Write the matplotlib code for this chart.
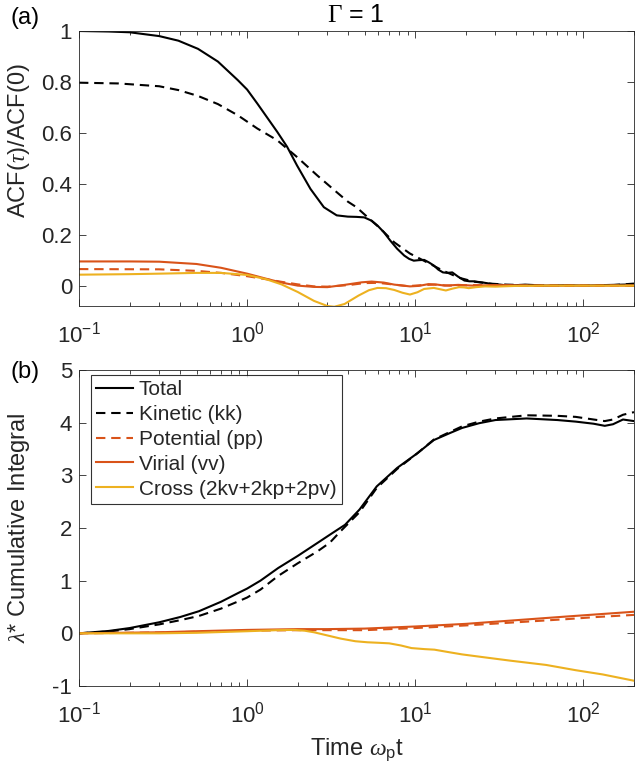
import numpy as np
import matplotlib
matplotlib.use("Agg")
import matplotlib.pyplot as plt
from matplotlib.ticker import LogLocator, NullFormatter

plt.rcParams['font.family'] = ['Liberation Sans', 'DejaVu Sans']
plt.rcParams['mathtext.fontset'] = 'custom'
plt.rcParams['mathtext.rm'] = 'Liberation Sans'
plt.rcParams['mathtext.it'] = 'Liberation Serif:italic'
plt.rcParams['mathtext.sf'] = 'Liberation Serif'
plt.rcParams['axes.unicode_minus'] = False

# colours (MATLAB defaults)
BLACK = 'black'
ORANGE = '#D95319'
YELLOW = '#EDB120'
TXT = '#262626'

# ---- panel (a): normalised ACFs ----
t_tot_a = [0.1, 0.15, 0.2, 0.3, 0.39, 0.51, 0.67, 0.88, 1.0, 1.15, 1.51, 1.73, 1.98, 2.38,
           2.86, 3.41, 3.97, 4.47, 4.97, 5.5, 5.96, 6.5, 7.1, 7.8, 8.6, 9.2, 9.8, 10.5, 11.3,
           12.0, 12.9, 13.7, 14.6, 15.5, 16.6, 18.0, 19.6, 21, 22.2, 24, 25.4, 28.9, 32, 36,
           45, 60, 80, 100, 150, 200]
acf_tot = [1.0, 0.998, 0.995, 0.98, 0.962, 0.93, 0.88, 0.807, 0.77, 0.715, 0.604, 0.545,
           0.472, 0.38, 0.308, 0.276, 0.271, 0.27, 0.268, 0.255, 0.236, 0.21, 0.177, 0.145,
           0.118, 0.105, 0.098, 0.1, 0.101, 0.092, 0.079, 0.063, 0.052, 0.05, 0.052, 0.035,
           0.02, 0.017, 0.017, 0.014, 0.012, 0.006, 0.004, 0.0, 0.004, 0.0, 0.002, 0.0,
           0.003, 0.005]

t_kin_a = [0.1, 0.172, 0.3, 0.39, 0.51, 0.67, 0.88, 1.15, 1.51, 1.98, 2.61, 3.41, 3.97,
           4.47, 5.2, 6.2, 7.5, 9.3, 11.7, 14.6, 18.2, 22.2, 27.7, 35, 50, 70, 100, 150, 200]
acf_kin = [0.797, 0.794, 0.783, 0.768, 0.745, 0.713, 0.669, 0.617, 0.571, 0.505, 0.433,
           0.367, 0.33, 0.308, 0.269, 0.224, 0.17, 0.126, 0.092, 0.059, 0.031, 0.016, 0.008,
           0.004, 0.001, 0.0, 0.0, 0.002, 0.008]

t_vir_a = [0.1, 0.2, 0.3, 0.5, 0.7, 1.0, 1.3, 1.6, 2.0, 2.5, 3.0, 3.8, 4.8, 5.5, 6.5, 7.5,
           9.3, 10.5, 12, 13.5, 15, 18, 22, 30, 50, 100, 200]
acf_vir = [0.095, 0.095, 0.094, 0.085, 0.07, 0.047, 0.027, 0.012, 0.0, -0.005, -0.006, 0.003,
           0.013, 0.016, 0.012, 0.004, -0.003, -0.001, 0.006, 0.004, 0.0, 0.003, 0.0, 0.002,
           0.0, 0.0, 0.0]

t_pot_a = [0.1, 0.3, 0.5, 0.7, 1.0, 1.3, 1.6, 2.0, 2.5, 3.0, 4, 5, 6, 7.5, 9, 11, 13, 16,
           22, 40, 200]
acf_pot = [0.065, 0.064, 0.058, 0.05, 0.037, 0.025, 0.015, 0.005, -0.003, -0.004, 0.002, 0.01,
           0.011, 0.004, -0.002, 0.002, 0.004, 0.0, 0.002, 0.0, 0.0]

t_crs_a = [0.1, 0.2, 0.3, 0.5, 0.7, 1.0, 1.3, 1.6, 2.0, 2.5, 3.0, 3.3, 3.8, 4.6, 5.3, 5.96,
           6.7, 7.5, 8.4, 9.3, 10.3, 11.3, 12.9, 14.0, 15.2, 16.6, 18.2, 19.5, 20.8, 23, 26,
           30, 40, 60, 100, 200]
acf_crs = [0.043, 0.045, 0.047, 0.05, 0.05, 0.042, 0.025, 0.005, -0.025, -0.06, -0.08,
           -0.083, -0.072, -0.039, -0.018, -0.009, -0.01, -0.017, -0.028, -0.035, -0.026,
           -0.013, -0.009, -0.014, -0.019, -0.012, -0.006, -0.007, -0.01, -0.006, -0.003,
           -0.004, -0.001, 0.0, 0.0, 0.0]

# ---- panel (b): cumulative integrals ----
t_tot_b = [0.1, 0.15, 0.2, 0.3, 0.4, 0.517, 0.7, 0.89, 1.0, 1.2, 1.53, 2.0, 2.63, 3.2, 3.82,
           4.66, 5.9, 7.8, 10.3, 12.9, 16, 19, 24, 30, 46, 70, 90, 115, 134, 150, 172, 200]
int_tot = [0.0, 0.045, 0.1, 0.21, 0.31, 0.42, 0.6, 0.77, 0.85, 1.0, 1.24, 1.47, 1.72, 1.9,
           2.06, 2.35, 2.79, 3.14, 3.42, 3.67, 3.8, 3.9, 3.99, 4.05, 4.08, 4.05, 4.02, 3.98,
           3.94, 3.97, 4.06, 4.03]

t_kin_b = [0.1, 0.15, 0.2, 0.3, 0.4, 0.517, 0.7, 0.89, 1.0, 1.2, 1.53, 2.0, 2.63, 3.1, 3.6,
           4.66, 5.9, 7.8, 10.3, 12.9, 16, 19, 24, 30, 46, 70, 90, 115, 134, 150, 172, 200]
int_kin = [0.0, 0.035, 0.08, 0.17, 0.25, 0.33, 0.47, 0.61, 0.68, 0.83, 1.09, 1.33, 1.56,
           1.72, 1.94, 2.3, 2.76, 3.12, 3.42, 3.68, 3.82, 3.93, 4.02, 4.08, 4.14, 4.13, 4.11,
           4.06, 4.03, 4.06, 4.15, 4.2]

t_vir_b = [0.1, 0.3, 0.5, 1, 2, 3, 5, 10, 20, 40, 80, 120, 200]
int_vir = [0.0, 0.02, 0.04, 0.065, 0.08, 0.08, 0.09, 0.13, 0.18, 0.25, 0.32, 0.36, 0.41]

t_pot_b = [0.1, 0.3, 0.5, 1, 2, 3, 5, 10, 20, 40, 80, 120, 200]
int_pot = [0.0, 0.015, 0.03, 0.05, 0.06, 0.06, 0.06, 0.1, 0.15, 0.21, 0.27, 0.31, 0.35]

t_crs_b = [0.1, 0.3, 0.5, 1.0, 1.5, 1.9, 2.2, 2.5, 3.0, 3.6, 4.4, 5.2, 6.1, 7.0, 8.2, 9.5,
           11.4, 13, 16, 19, 25, 37, 60, 90, 130, 200]
int_crs = [0.0, 0.0, 0.01, 0.04, 0.06, 0.065, 0.05, 0.02, -0.04, -0.1, -0.15, -0.17, -0.18,
           -0.19, -0.23, -0.28, -0.3, -0.31, -0.36, -0.4, -0.45, -0.52, -0.6, -0.7, -0.78, -0.9]

labels = ['Total', 'Kinetic (kk)', 'Potential (pp)', 'Virial (vv)', 'Cross (2kv+2kp+2pv)']

W, H = 635, 776
fig = plt.figure(figsize=(W / 100, H / 100), dpi=100)

def px_axes(left, top, right, bottom):
    return fig.add_axes([left / W, 1 - bottom / H, (right - left) / W, (bottom - top) / H])

ax1 = px_axes(79, 31, 634, 306)
ax2 = px_axes(79, 370, 634, 686)

lw = 1.5
dash = (4.5, 2.8)

ax1.plot(t_tot_a, acf_tot, color=BLACK, lw=lw)
ax1.plot(t_kin_a, acf_kin, color=BLACK, lw=lw, ls='--', dashes=dash)
ax1.plot(t_pot_a, acf_pot, color=ORANGE, lw=lw, ls='--', dashes=dash)
ax1.plot(t_vir_a, acf_vir, color=ORANGE, lw=lw)
ax1.plot(t_crs_a, acf_crs, color=YELLOW, lw=lw)

ax2.plot(t_tot_b, int_tot, color=BLACK, lw=lw, label=labels[0])
ax2.plot(t_kin_b, int_kin, color=BLACK, lw=lw, ls='--', dashes=dash, label=labels[1])
ax2.plot(t_pot_b, int_pot, color=ORANGE, lw=lw, ls='--', dashes=dash, label=labels[2])
ax2.plot(t_vir_b, int_vir, color=ORANGE, lw=lw, label=labels[3])
ax2.plot(t_crs_b, int_crs, color=YELLOW, lw=lw, label=labels[4])

for ax in (ax1, ax2):
    ax.set_xscale('log')
    ax.set_xlim(0.1, 200)
    ax.xaxis.set_major_locator(LogLocator(base=10, numticks=10))
    ax.xaxis.set_minor_locator(LogLocator(base=10, subs=np.arange(2, 10), numticks=20))
    ax.xaxis.set_minor_formatter(NullFormatter())
    ax.tick_params(which='both', direction='in', top=True, right=True, colors=TXT,
                   labelsize=16, width=0.6)
    ax.tick_params(which='major', length=5)
    ax.tick_params(which='minor', length=2.8)
    ax.tick_params(axis='x', pad=11)
    ax.tick_params(axis='y', pad=5)
    for sp in ax.spines.values():
        sp.set_color(TXT)
        sp.set_linewidth(0.6)

ax1.set_ylim(-0.08, 1)
ax1.set_yticks([0, 0.2, 0.4, 0.6, 0.8, 1])
ax1.set_yticklabels(['0', '0.2', '0.4', '0.6', '0.8', '1'])
ax1.set_ylabel(r'ACF($\tau$)/ACF(0)', fontsize=17, color=TXT)
ax1.yaxis.set_label_coords(-0.084, 0.6)

ax2.set_ylim(-1, 5)
ax2.set_yticks([-1, 0, 1, 2, 3, 4, 5])
ax2.set_ylabel(r'$\lambda$* Cumulative Integral', fontsize=17, color=TXT)
ax2.yaxis.set_label_coords(-0.084, 0.5)
ax2.set_xlabel(r'Time $\omega_{\mathrm{p}}$t', fontsize=17, color=TXT)
ax2.xaxis.set_label_coords(0.5, -0.16)

leg = ax2.legend(loc='upper left', bbox_to_anchor=(0.0216, 0.984), borderaxespad=0,
                 fontsize=15, frameon=True, fancybox=False, handlelength=1.75,
                 handletextpad=0.3, labelspacing=0.28, borderpad=0.25)
leg.get_frame().set_edgecolor(BLACK)
leg.get_frame().set_linewidth(0.8)
for txt in leg.get_texts():
    txt.set_color(TXT)

fig.text(356 / W, 1 - 15 / H, r'$\mathsf{\Gamma}$ = 1', fontsize=18, ha='center', va='center',
         color=BLACK)
fig.text(10 / W, 1 - 18 / H, '(a)', fontsize=17, ha='left', va='center', color=BLACK)
fig.text(10 / W, 1 - 372 / H, '(b)', fontsize=17, ha='left', va='center', color=BLACK)

fig.savefig('out.png', dpi=100)
